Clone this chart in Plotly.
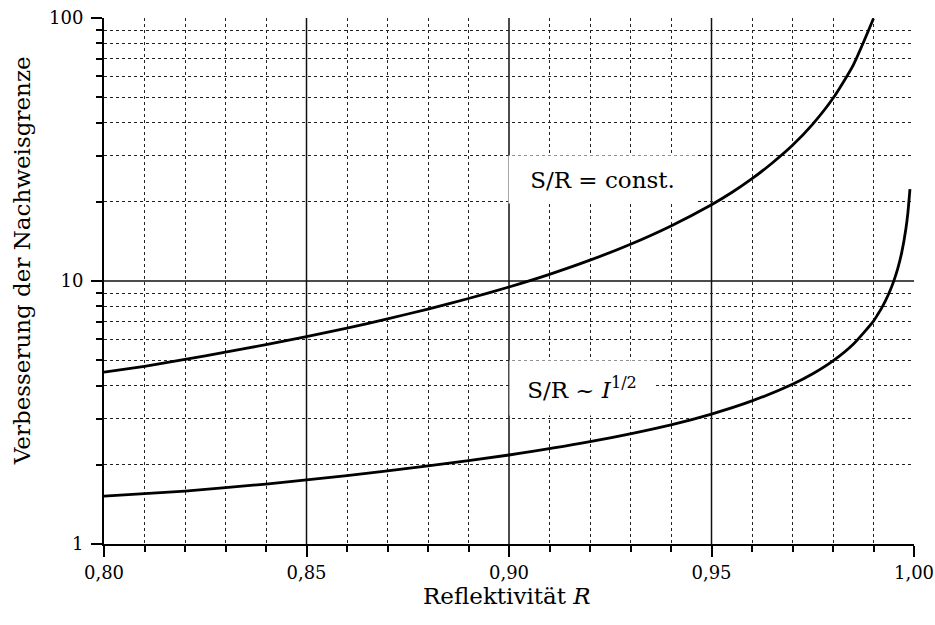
import plotly.graph_objects as go

# Data
r_const = [0.80, 0.81, 0.82, 0.83, 0.84, 0.85, 0.86, 0.87, 0.88, 0.89, 0.90,
           0.91, 0.92, 0.93, 0.94, 0.95, 0.955, 0.96, 0.965, 0.97, 0.975,
           0.98, 0.985, 0.99]
v_const = [4.5, 4.74, 5.03, 5.36, 5.73, 6.15, 6.62, 7.18, 7.82, 8.58, 9.49,
           10.6, 12.0, 13.8, 16.2, 19.5, 21.7, 24.5, 28.1, 32.8, 39.5,
           49.5, 66.2, 99.5]

r_sqrt = [0.80, 0.82, 0.84, 0.86, 0.88, 0.90, 0.92, 0.94, 0.95, 0.96, 0.97,
          0.975, 0.98, 0.985, 0.99, 0.991, 0.992, 0.993, 0.994, 0.995, 0.996,
          0.997, 0.998, 0.9985, 0.999]
v_sqrt = [1.52, 1.59, 1.69, 1.82, 1.98, 2.18, 2.45, 2.84, 3.12, 3.5, 4.05,
          4.44, 4.97, 5.75, 7.04, 7.44, 7.89, 8.44, 9.12, 9.99, 11.17,
          12.9, 15.8, 18.25, 22.35]

x_ticks = [0.80, 0.85, 0.90, 0.95, 1.00]
x_ticktext = ["0,80", "0,85", "0,90", "0,95", "1,00"]
x_minor = [0.81, 0.82, 0.83, 0.84, 0.86, 0.87, 0.88, 0.89, 0.91, 0.92, 0.93,
           0.94, 0.96, 0.97, 0.98, 0.99]
y_ticks = [1, 10, 100]
y_ticktext = ["1", "10", "100"]
y_minor = [2, 3, 4, 5, 6, 7, 8, 9, 20, 30, 40, 50, 60, 70, 80, 90]

label_const = "S/R = const."
label_sqrt = "S/R ~ <i>I</i><sup>1/2</sup>"
x_title = "Reflektivität <i>R</i>"
y_title = "Verbesserung der Nachweisgrenze"

FONT = "DejaVu Serif"

fig = go.Figure()
fig.add_trace(go.Scatter(x=r_const, y=v_const, mode="lines",
                         line=dict(color="black", width=2.8, shape="spline", smoothing=0.6),
                         showlegend=False, hoverinfo="skip"))
fig.add_trace(go.Scatter(x=r_sqrt, y=v_sqrt, mode="lines",
                         line=dict(color="black", width=2.8, shape="spline", smoothing=0.6),
                         showlegend=False, hoverinfo="skip"))

# solid major grid lines
for xv in x_ticks[1:-1]:
    fig.add_shape(type="line", xref="x", yref="paper", x0=xv, x1=xv, y0=0, y1=1,
                  line=dict(color="#111", width=1.5), layer="between")
fig.add_shape(type="line", xref="paper", yref="y", x0=0, x1=1, y0=10, y1=10,
              line=dict(color="#111", width=1.5), layer="between")

fig.add_annotation(x=0.9231, y=1.385, xref="x", yref="y", yanchor="middle",
                   text=label_const, showarrow=False, bgcolor="white",
                   width=185, height=45, font=dict(family=FONT, size=23, color="black"))
fig.add_annotation(x=0.918, y=0.594, xref="x", yref="y",
                   text=label_sqrt, showarrow=False, bgcolor="white",
                   width=142, height=52, font=dict(family=FONT, size=23, color="black"))

# axis titles placed as text annotations
fig.add_annotation(x=-0.101, y=0.538, xref="paper", yref="paper", text=y_title,
                   showarrow=False, textangle=-90, xanchor="center", yanchor="middle",
                   font=dict(family=FONT, size=23, color="black"))
fig.add_annotation(x=0.4975, y=-0.099, xref="paper", yref="paper", text=x_title,
                   showarrow=False, xanchor="center", yanchor="middle",
                   font=dict(family=FONT, size=23, color="black"))

fig.update_xaxes(range=[0.80, 1.00], tickvals=x_ticks, ticktext=x_ticktext,
                 ticks="outside", ticklen=11, tickwidth=2, tickcolor="black",
                 showline=True, linewidth=2, linecolor="black", showgrid=False,
                 zeroline=False, automargin=False,
                 minor=dict(tickvals=x_minor, ticks="outside", ticklen=6, tickwidth=2,
                            tickcolor="black", showgrid=True, gridcolor="#222",
                            griddash="dot", gridwidth=1),
                 tickfont=dict(family=FONT, size=18, color="black"))
fig.update_yaxes(type="log", range=[0, 2], tickvals=y_ticks, ticktext=y_ticktext,
                 ticks="outside", ticklen=11, tickwidth=2, tickcolor="black",
                 showline=True, linewidth=2, linecolor="black", showgrid=False,
                 zeroline=False, automargin=False, ticklabelstandoff=4,
                 minor=dict(tickvals=y_minor, ticks="outside", ticklen=6, tickwidth=2,
                            tickcolor="black", showgrid=True, gridcolor="#222",
                            griddash="dot", gridwidth=1),
                 tickfont=dict(family=FONT, size=18, color="black"))

fig.update_layout(width=935, height=625, margin=dict(l=104, r=21, t=18, b=81),
                  plot_bgcolor="white", paper_bgcolor="white",
                  font=dict(family=FONT, color="black"))
fig.write_html("out.html")
